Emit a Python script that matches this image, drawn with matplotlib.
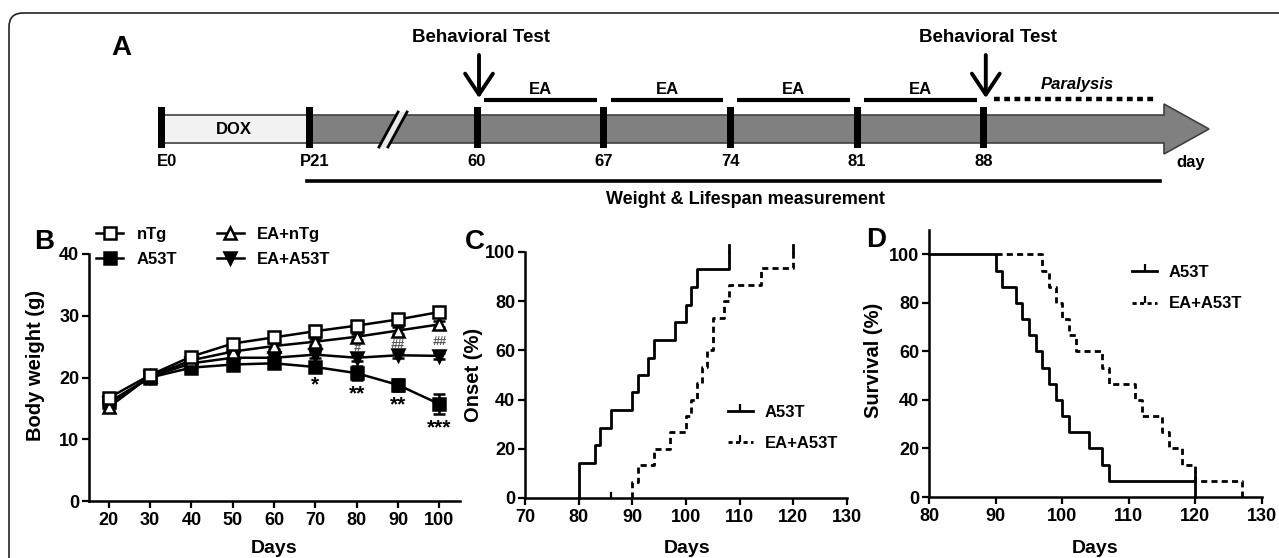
import matplotlib
matplotlib.use('Agg')
import matplotlib.pyplot as plt
from matplotlib.patches import Polygon, Rectangle, FancyBboxPatch
from matplotlib.lines import Line2D

plt.rcParams['font.family'] = ['Liberation Sans', 'DejaVu Sans']
plt.rcParams['font.weight'] = 'bold'
plt.rcParams['axes.labelweight'] = 'bold'

# ---- data ----
# panel A timeline
tl_labels = ['E0', 'P21', '60', '67', '74', '81', '88']
tl_days = [None, None, 60, 67, 74, 81, 88]
ea_periods = [(60, 67), (67, 74), (74, 81), (81, 88)]
test_days = [60, 88]

# panel B body weight
days_b = [20, 30, 40, 50, 60, 70, 80, 90, 100]
w_ntg = [16.7, 20.4, 23.4, 25.5, 26.5, 27.5, 28.4, 29.4, 30.6]
w_a53t = [16.0, 20.0, 21.6, 22.1, 22.3, 21.7, 20.7, 18.8, 15.7]
w_ea_ntg = [15.2, 20.2, 22.8, 24.2, 25.1, 25.8, 26.6, 27.6, 28.6]
w_ea_a53t = [15.8, 20.1, 22.3, 23.2, 23.2, 23.7, 23.2, 23.6, 23.5]
e_ntg = [0.5, 0.4, 0.5, 0.5, 0.5, 0.5, 0.6, 0.6, 0.6]
e_a53t = [0.6, 0.5, 0.6, 0.7, 0.6, 0.6, 1.1, 1.0, 1.6]
e_ea_ntg = [0.5, 0.4, 0.5, 0.5, 0.5, 0.5, 0.5, 0.5, 0.5]
e_ea_a53t = [0.5, 0.4, 0.5, 0.5, 0.5, 0.5, 0.5, 0.5, 0.5]
star_days = [70, 80, 90, 100]
star_text = ['*', '**', '**', '***']
star_y = [18.8, 17.4, 15.6, 11.8]
hash_days = [80, 90, 100]
hash_text = ['#', '##', '##']
hash_y = [24.7, 25.3, 25.8]

# panel C onset (step curves)
on_a53t_x = [80, 80, 83, 84, 86, 90, 91, 93, 94, 98, 100, 101, 102, 108]
on_a53t_y = [0, 14.3, 21.4, 28.6, 35.7, 42.9, 50.0, 57.1, 64.3, 71.4, 78.6, 85.7, 92.9, 100]
on_ea_x = [90, 90, 91, 94, 97, 100, 101, 102, 103, 104, 105, 107, 108, 114, 120]
on_ea_y = [0, 6.7, 13.3, 20.0, 26.7, 33.3, 40.0, 46.7, 53.3, 60.0, 73.3, 80.0, 86.7, 93.3, 100]

# panel D survival (step curves)
sv_a53t_x = [80, 90, 91, 93, 94, 95, 96, 97, 98, 99, 100, 101, 104, 106, 107, 120]
sv_a53t_y = [100, 93.3, 86.7, 80, 73.3, 66.7, 60, 53.3, 46.7, 40, 33.3, 26.7, 20, 13.3, 6.7, 0]
sv_ea_x = [90, 97, 98, 99, 100, 101, 102, 106, 107, 111, 112, 115, 116, 118, 120, 127]
sv_ea_y = [100, 93.3, 86.7, 80, 73.3, 66.7, 60, 53.3, 46.7, 40, 33.3, 26.7, 20, 13.3, 6.7, 0]

W, H = 1279, 558
fig = plt.figure(figsize=(W / 100, H / 100), dpi=100)

# ---- panel A: schematic drawn in pixel coordinates ----
ax0 = fig.add_axes([0, 0, 1, 1])
ax0.set_xlim(0, W)
ax0.set_ylim(H, 0)
ax0.axis('off')

ax0.add_patch(FancyBboxPatch((9, 13), 1400, 700, boxstyle='round,pad=0,rounding_size=14',
                             fc='none', ec='#222222', lw=1.2))

def tx(day):
    # days 60..88 are evenly spaced on the timeline
    return 477 + (day - 60) * 18.1

x_e0, x_p21 = 161, 309
tick_x = [x_e0, x_p21] + [tx(d) for d in tl_days[2:]]
yb0, yb1 = 115, 143
body_end, tip = 1164, 1209

ax0.add_patch(Polygon([(x_e0, yb0), (x_p21, yb0), (x_p21, yb1), (x_e0, yb1)],
                      closed=True, fc='#f2f2f2', ec='#404040', lw=1.2))
ax0.add_patch(Polygon([(x_p21, yb0), (body_end, yb0), (body_end, 104), (tip, 129),
                       (body_end, 154), (body_end, yb1), (x_p21, yb1)],
                      closed=True, fc='#808080', ec='#404040', lw=1.2))
# break mark
ax0.add_patch(Polygon([(379, 147), (398, 112), (407, 112), (388, 147)], closed=True,
                      fc='#e8e8e8', ec='none', zorder=3))
ax0.plot([379, 398], [147, 112], color='k', lw=2, zorder=4)
ax0.plot([388, 407], [147, 112], color='k', lw=2, zorder=4)

for x, lab in zip(tick_x, tl_labels):
    ax0.add_patch(Rectangle((x - 3.5, 107), 7, 41, fc='k', ec='none', zorder=5))
    ax0.text(x + (6 if lab in ('E0', 'P21') else 0), 162, lab, ha='center', va='center', fontsize=12)
ax0.text(1191, 162, 'day', ha='center', va='center', fontsize=12)
ax0.text(234, 129, 'DOX', ha='center', va='center', fontsize=12)

for a, b in ea_periods:
    ax0.plot([tx(a) + 7, tx(b) - 7], [100, 100], color='k', lw=3, solid_capstyle='butt')
    ax0.text((tx(a) + tx(b)) / 2, 89, 'EA', ha='center', va='center', fontsize=12)

ax0.plot([tx(88) + 10, 1156], [99, 99], color='k', lw=3.2, linestyle=(0, (1.3, 1.0)))
ax0.text(1077, 85, 'Paralysis', ha='center', va='center', fontsize=12, style='italic')

for d in test_days:
    ax0.annotate('', xy=(tx(d) + 2, 98), xytext=(tx(d) + 2, 55),
                 arrowprops=dict(arrowstyle='->,head_length=0.75,head_width=0.5', lw=2.8,
                                 color='k', mutation_scale=20, shrinkA=0, shrinkB=0))
    ax0.text(tx(d) + 4, 37, 'Behavioral Test', ha='center', va='center', fontsize=13.5)

ax0.plot([307, 1160], [181, 181], color='k', lw=2.6)
ax0.text(745, 200, 'Weight & Lifespan measurement', ha='center', va='center', fontsize=13)

ax0.text(121, 48, 'A', ha='center', va='center', fontsize=20)
ax0.text(44, 242, 'B', ha='center', va='center', fontsize=20)
ax0.text(475, 242, 'C', ha='center', va='center', fontsize=20)
ax0.text(876, 240, 'D', ha='center', va='center', fontsize=20)


def frac(l, r, b, t):
    return [l / W, (H - b) / H, (r - l) / W, (b - t) / H]


def style(ax):
    for s in ('top', 'right'):
        ax.spines[s].set_visible(False)
    for s in ('left', 'bottom'):
        ax.spines[s].set_linewidth(1.8)
    ax.tick_params(direction='out', length=5, width=1.6, labelsize=13)
    ax.tick_params(axis='y', pad=2)
    ax.tick_params(axis='x', pad=3)
    ax.set_facecolor('none')


# ---- panel B ----
axB = fig.add_axes(frac(89, 460, 501, 254))
style(axB)
kw = dict(color='k', lw=1.8, capsize=4, elinewidth=1.8, capthick=1.8, mew=1.8)
axB.errorbar(days_b, w_a53t, yerr=e_a53t, marker='s', ms=8, mfc='k', zorder=3, **kw)
axB.errorbar(days_b, w_ea_a53t, yerr=e_ea_a53t, marker='v', ms=8, mfc='k', zorder=4, **kw)
axB.errorbar(days_b, w_ea_ntg, yerr=e_ea_ntg, marker='^', ms=9, mfc='white', zorder=5, **kw)
axB.errorbar(days_b, w_ntg, yerr=e_ntg, marker='s', ms=8, mfc='white', zorder=6, **kw)
for d, t, y in zip(star_days, star_text, star_y):
    axB.text(d, y, t, ha='center', va='center', fontsize=15)
for d, t, y in zip(hash_days, hash_text, hash_y):
    axB.text(d, y, t, ha='center', va='center', fontsize=9, color='#555555', style='italic')
axB.set_xlim(15.2, 105)
axB.set_ylim(0, 40)
axB.set_xticks(days_b)
axB.set_yticks([0, 10, 20, 30, 40])
axB.set_xlabel('Days', fontsize=14)
axB.set_ylabel('Body weight (g)', fontsize=14.5)
axB.xaxis.set_label_coords(0.5, -0.158)
axB.yaxis.set_label_coords(-0.119, 0.55)
axB.xaxis.label.set_va('top')
mk = dict(color='k', lw=1.8, mew=1.8)
hB = [Line2D([], [], marker='s', ms=8, mfc='white', **mk),
      Line2D([], [], marker='s', ms=8, mfc='k', **mk),
      Line2D([], [], marker='^', ms=9, mfc='white', **mk),
      Line2D([], [], marker='v', ms=8, mfc='k', **mk)]
axB.legend(hB, ['nTg', 'A53T', 'EA+nTg', 'EA+A53T'], ncol=2, frameon=False, fontsize=12,
           loc='upper left', bbox_to_anchor=(0.02, 1.11), borderaxespad=0, borderpad=0,
           handlelength=1.6, handletextpad=0.8, columnspacing=2.4, labelspacing=0.6)

# ---- panel C ----
axC = fig.add_axes(frac(525, 847, 498, 252))
style(axC)
axC.plot(on_a53t_x, on_a53t_y, drawstyle='steps-post', color='k', lw=2, clip_on=False)
axC.plot(on_ea_x, on_ea_y, drawstyle='steps-post', color='k', lw=2, clip_on=False,
         linestyle=(0, (2.2, 1.5)))
axC.plot([108, 108], [100, 103], color='k', lw=2, clip_on=False)
axC.plot([120, 120], [100, 103], color='k', lw=2, clip_on=False)
axC.plot([86, 86], [0, 2], color='k', lw=1.6, clip_on=False)
axC.set_xlim(70, 130)
axC.set_ylim(0, 100)
axC.set_xticks([70, 80, 90, 100, 110, 120, 130])
axC.set_yticks([0, 20, 40, 60, 80, 100])
axC.set_xlabel('Days', fontsize=14)
axC.set_ylabel('Onset (%)', fontsize=14.5)
axC.xaxis.set_label_coords(0.503, -0.17)
axC.yaxis.set_label_coords(-0.13, 0.5)
axC.xaxis.label.set_va('top')
lh = [Line2D([], [], color='k', lw=2, marker=2, ms=5, mew=1.6),
      Line2D([], [], color='k', lw=2, marker=2, ms=5, mew=1.6, linestyle=(0, (1.5, 1.2)))]
axC.legend(lh, ['A53T', 'EA+A53T'], frameon=False, fontsize=12, numpoints=1,
           loc='upper left', bbox_to_anchor=(0.63, 0.38), borderaxespad=0, borderpad=0,
           handlelength=1.5, handletextpad=0.7, labelspacing=1.0)

# ---- panel D ----
axD = fig.add_axes(frac(929, 1262, 497, 230))
style(axD)
axD.plot(sv_ea_x, sv_ea_y, drawstyle='steps-post', color='k', lw=2, clip_on=False,
         linestyle=(0, (2.2, 1.5)))
axD.plot(sv_a53t_x, sv_a53t_y, drawstyle='steps-post', color='k', lw=2, clip_on=False)
axD.plot([120, 120], [6.7, 10.5], color='k', lw=2, clip_on=False)
axD.set_xlim(80, 130)
axD.set_ylim(0, 110)
axD.set_xticks([80, 90, 100, 110, 120, 130])
axD.set_yticks([0, 20, 40, 60, 80, 100])
axD.set_xlabel('Days', fontsize=14)
axD.set_ylabel('Survival (%)', fontsize=14.5)
axD.xaxis.set_label_coords(0.5, -0.162)
axD.yaxis.set_label_coords(-0.138, 0.51)
axD.xaxis.label.set_va('top')
axD.legend(lh, ['A53T', 'EA+A53T'], frameon=False, fontsize=12, numpoints=1,
           loc='upper left', bbox_to_anchor=(0.61, 0.87), borderaxespad=0, borderpad=0,
           handlelength=1.5, handletextpad=0.7, labelspacing=1.0)

fig.savefig('out.png', dpi=100)
